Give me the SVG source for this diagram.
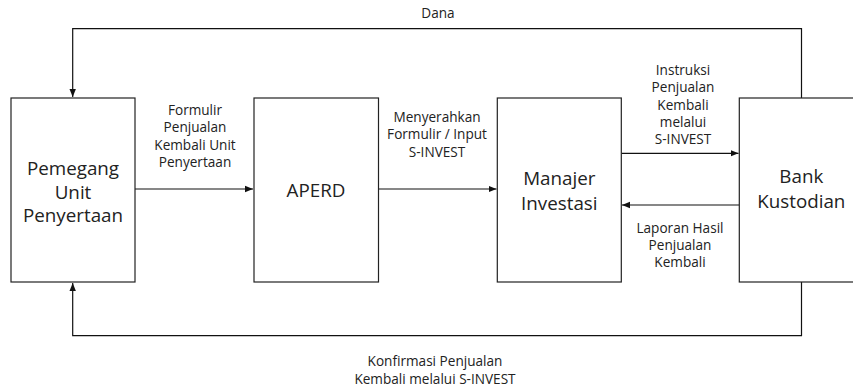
<svg xmlns="http://www.w3.org/2000/svg" width="853" height="389" viewBox="0 0 853 389">
<style>
.box{fill:#fff;stroke:#222;stroke-width:1.2}
.big{font-family:"Open Sans","Noto Sans",sans-serif;font-size:18.8px;fill:#222;text-anchor:middle}
.sm{font-family:"Open Sans","Noto Sans",sans-serif;font-size:13.6px;fill:#222;text-anchor:middle}
.ln{fill:none;stroke:#111;stroke-width:1.2}
</style>
<defs>
<marker id="ah" markerWidth="8" markerHeight="8" refX="8" refY="4" orient="auto" markerUnits="userSpaceOnUse">
<path d="M0,0.8 L8,4 L0,7.2 Z" fill="#111"/>
</marker>
</defs>
<rect width="853" height="389" fill="#fff"/>
<g id="connectors">
<path class="ln" d="M801.5,98 V28.7 H72.7 V97" marker-end="url(#ah)"/>
<path class="ln" d="M801.5,282 V335.7 H72.7 V283" marker-end="url(#ah)"/>
<path class="ln" d="M135,189 H253" marker-end="url(#ah)"/>
<path class="ln" d="M378.5,189 H496.5" marker-end="url(#ah)"/>
<path class="ln" d="M621.5,153.3 H738.5" marker-end="url(#ah)"/>
<path class="ln" d="M739,205 H622" marker-end="url(#ah)"/>
<text class="sm" x="438" y="18">Dana</text>
<text class="sm" x="195" y="115">Formulir</text>
<text class="sm" x="195" y="132.3">Penjualan</text>
<text class="sm" x="195" y="149.6">Kembali Unit</text>
<text class="sm" x="195" y="166.9">Penyertaan</text>
<text class="sm" x="437" y="122">Menyerahkan</text>
<text class="sm" x="437" y="139.3">Formulir / Input</text>
<text class="sm" x="437" y="156.6">S-INVEST</text>
<text class="sm" x="683" y="75">Instruksi</text>
<text class="sm" x="683" y="92.3">Penjualan</text>
<text class="sm" x="683" y="109.6">Kembali</text>
<text class="sm" x="683" y="126.9">melalui</text>
<text class="sm" x="683" y="144.2">S-INVEST</text>
<text class="sm" x="680" y="232.7">Laporan Hasil</text>
<text class="sm" x="680" y="250">Penjualan</text>
<text class="sm" x="680" y="267.3">Kembali</text>
<text class="sm" x="435" y="366.3">Konfirmasi Penjualan</text>
<text class="sm" x="435" y="383.6">Kembali melalui S-INVEST</text>
</g>
<g id="pemegang">
<rect class="box" x="11" y="98" width="124" height="184"/>
<text class="big" x="73" y="175">Pemegang</text>
<text class="big" x="73" y="198.5">Unit</text>
<text class="big" x="73" y="222">Penyertaan</text>
</g>
<g id="aperd">
<rect class="box" x="254" y="98" width="124.5" height="184"/>
<text class="big" x="316" y="197">APERD</text>
</g>
<g id="manajer">
<rect class="box" x="497.3" y="98" width="124" height="184"/>
<text class="big" x="559.3" y="185">Manajer</text>
<text class="big" x="559.3" y="210">Investasi</text>
</g>
<g id="bank">
<rect class="box" x="739.3" y="98" width="124" height="184"/>
<text class="big" x="801.3" y="183">Bank</text>
<text class="big" x="801.3" y="208">Kustodian</text>
</g>
</svg>
